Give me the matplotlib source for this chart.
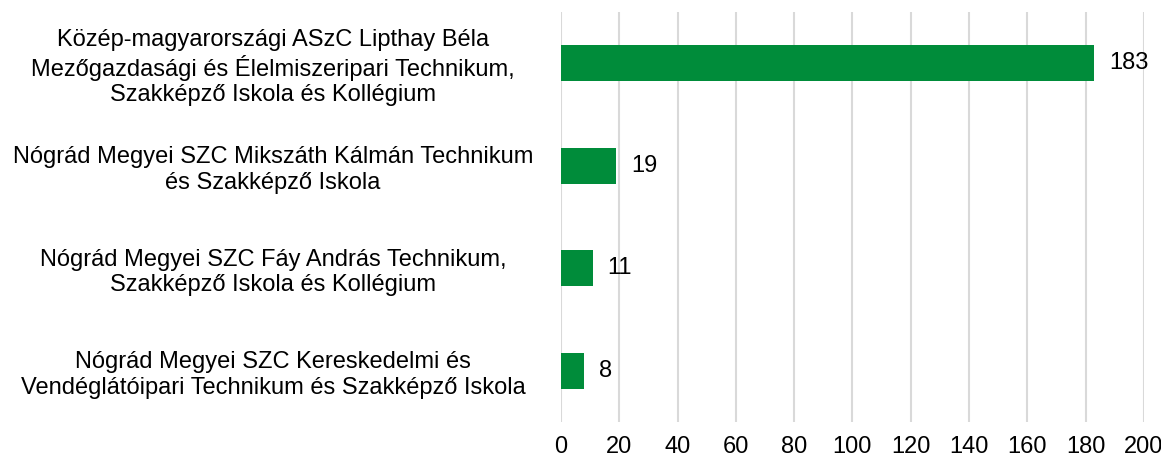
import matplotlib.pyplot as plt
import numpy as np

plt.rcParams['font.family'] = ['Liberation Sans', 'DejaVu Sans']

# data
schools = [
    'Közép-magyarországi ASzC Lipthay Béla\nMezőgazdasági és Élelmiszeripari Technikum,\nSzakképző Iskola és Kollégium',
    'Nógrád Megyei SZC Mikszáth Kálmán Technikum\nés Szakképző Iskola',
    'Nógrád Megyei SZC Fáy András Technikum,\nSzakképző Iskola és Kollégium',
    'Nógrád Megyei SZC Kereskedelmi és\nVendéglátóipari Technikum és Szakképző Iskola',
]
counts = [183, 19, 11, 8]
x_ticks = list(range(0, 201, 20))

fig = plt.figure(figsize=(11.61, 4.59), dpi=100)
ax = fig.add_axes([0.4832, 0.0806, 0.502, 0.893])

y = np.arange(len(schools))
bars = ax.barh(y, counts, height=0.35, color='#008c3a', zorder=3)
ax.set_ylim(3.5, -0.5)
ax.set_xlim(0, 200)
ax.set_xticks(x_ticks)
ax.set_yticks(y)
ax.set_yticklabels(schools, fontsize=17, ha='center', multialignment='center')
ax.tick_params(axis='y', length=0, pad=0)
ax.tick_params(axis='x', length=0, labelsize=17, pad=10)
# center the category labels in the left area
for lbl in ax.get_yticklabels():
    lbl.set_x(-0.494)

ax.grid(axis='x', color='#d9d9d9', linewidth=1.5, zorder=0)
for s in ax.spines.values():
    s.set_visible(False)

for b, v in zip(bars, counts):
    ax.text(v + 5, b.get_y() + b.get_height() / 2, str(v), va='center', ha='left', fontsize=17)

fig.savefig('out.png', dpi=100)
